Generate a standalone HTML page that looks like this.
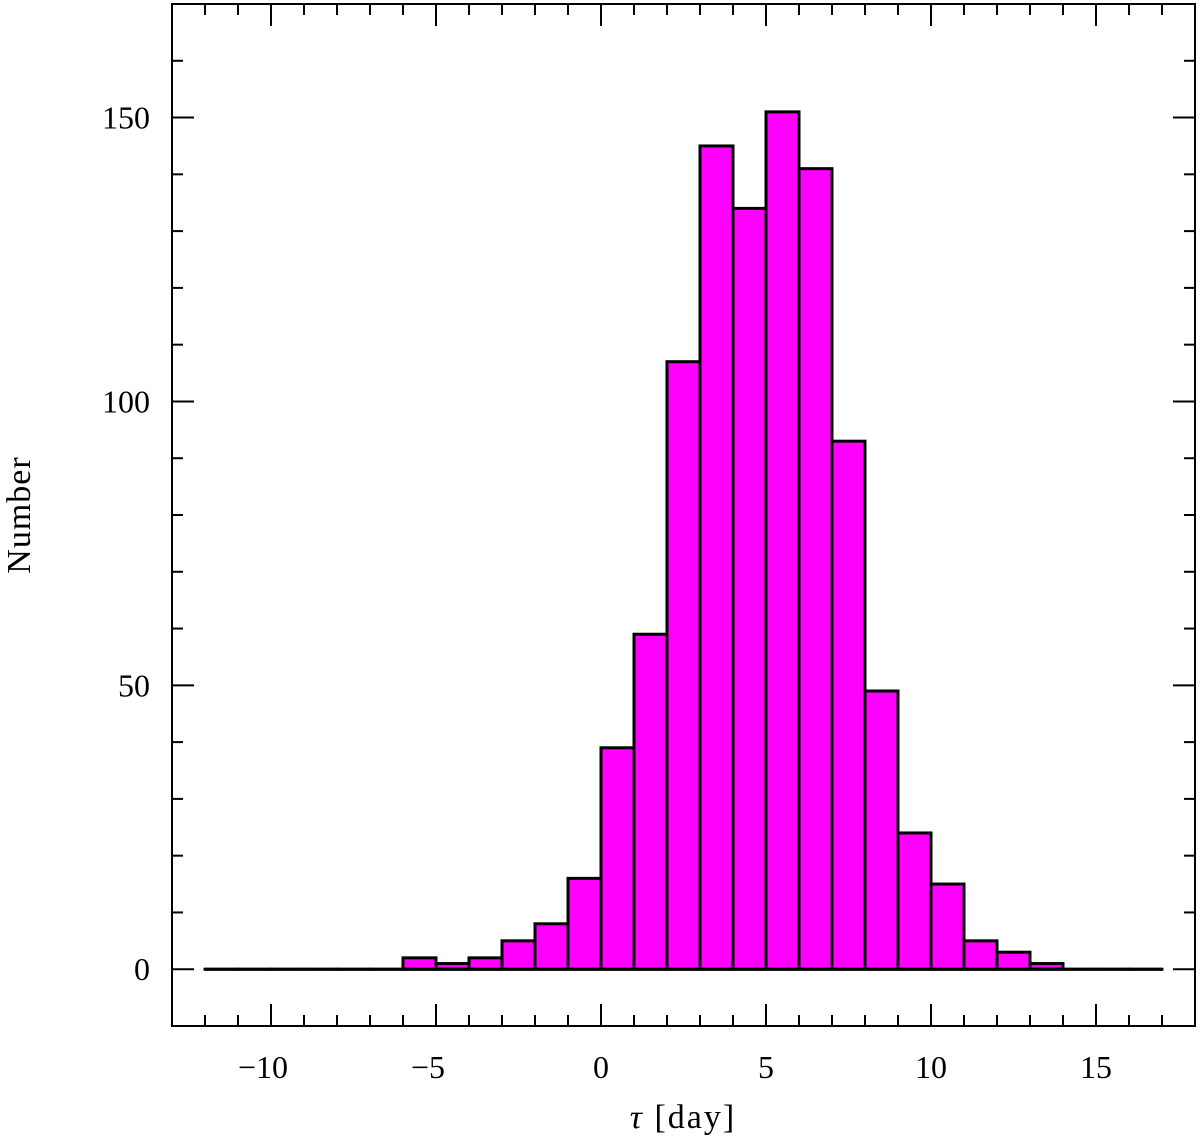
<!DOCTYPE html>
<html><head><meta charset="utf-8"><style>
body{margin:0;background:#fff;}
svg text{font-family:"Liberation Serif","DejaVu Serif",serif;fill:#000;}
</style></head><body>
<svg id="chart" width="1200" height="1142" xmlns="http://www.w3.org/2000/svg">
<g id="bars"></g>
<g id="axes"></g>
<text x="683" y="1128" font-size="34" text-anchor="middle" letter-spacing="2"><tspan font-style="italic">τ</tspan>  [day]</text>
<text transform="translate(30,515) rotate(-90)" font-size="34" text-anchor="middle" letter-spacing="1">Number</text>
</svg>
<script>
const binStarts=[-12,-11,-10,-9,-8,-7,-6,-5,-4,-3,-2,-1,0,1,2,3,4,5,6,7,8,9,10,11,12,13,14,15,16];
const counts=[0,0,0,0,0,0,2,1,2,5,8,16,39,59,107,145,134,151,141,93,49,24,15,5,3,1,0,0,0];
const xTickLabels=[-10,-5,0,5,10,15];
const yTickLabels=[0,50,100,150];
const binWidth=1;
const L=172,R=1195,T=4,B=1026,xmin=-13,xmax=18,ymin=-10,ymax=170;
const X=v=>L+(v-xmin)/(xmax-xmin)*(R-L);
const Y=v=>B-(v-ymin)/(ymax-ymin)*(B-T);
const NS="http://www.w3.org/2000/svg";
function mk(tag,attrs,parent){const e=document.createElementNS(NS,tag);for(const k in attrs)e.setAttribute(k,attrs[k]);parent.appendChild(e);return e;}
const bars=document.getElementById('bars'),axes=document.getElementById('axes');
binStarts.forEach((s,i)=>{
  const x0=X(s),x1=X(s+binWidth),y=Y(counts[i]),y0=Y(0);
  const r=mk('rect',{x:x0,y:y,width:x1-x0,height:Math.max(y0-y,0.01),fill:'#ff00ff',stroke:'#000','stroke-width':3},bars);
  
  
});
const base=mk('line',{x1:X(binStarts[0]),x2:X(binStarts[binStarts.length-1]+binWidth),y1:Y(0),y2:Y(0),stroke:'#000','stroke-width':3},bars);


const frame=mk('rect',{x:L,y:T,width:R-L,height:B-T,fill:'none',stroke:'#000','stroke-width':2},axes);


for(let v=-13;v<=18;v++){
  const len=(v%5===0)?22:11,x=X(v);
  mk('line',{x1:x,x2:x,y1:B,y2:B-len,stroke:'#000','stroke-width':2},axes);
  mk('line',{x1:x,x2:x,y1:T,y2:T+len,stroke:'#000','stroke-width':2},axes);
}
for(let v=-10;v<=170;v+=10){
  const len=(v%50===0)?22:11,y=Y(v);
  mk('line',{x1:L,x2:L+len,y1:y,y2:y,stroke:'#000','stroke-width':2},axes);
  mk('line',{x1:R,x2:R-len,y1:y,y2:y,stroke:'#000','stroke-width':2},axes);
}
xTickLabels.forEach(v=>{
  const t=mk('text',{x:X(v)+(v<0?-8:0),y:1078,'font-size':32,'text-anchor':'middle'},axes);
  t.textContent=(v<0?'−':'')+Math.abs(v);
  
  
});
yTickLabels.forEach(v=>{
  const t=mk('text',{x:150,y:Y(v)+11,'font-size':32,'text-anchor':'end'},axes);
  t.textContent=v;
  
  
});
</script>
</body></html>
